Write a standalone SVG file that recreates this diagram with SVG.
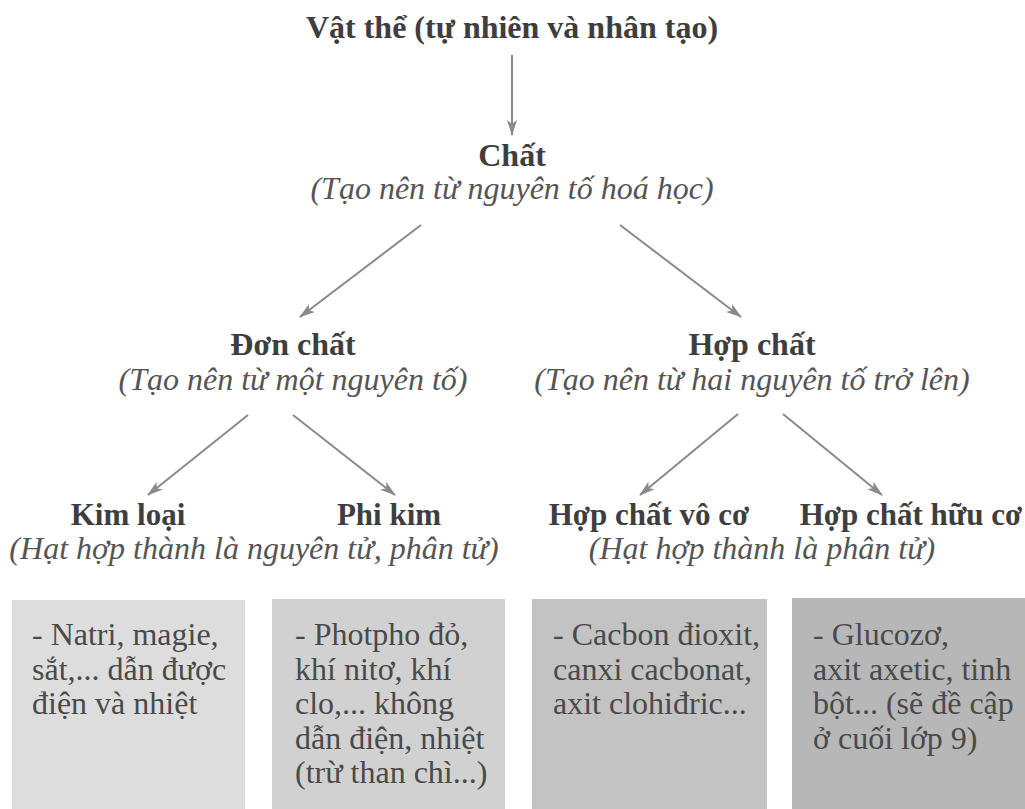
<svg xmlns="http://www.w3.org/2000/svg" width="1025" height="809" viewBox="0 0 1025 809">
<defs>
<style>
text{font-family:"Liberation Serif","DejaVu Serif",serif;font-size:32px}
.h{font-weight:bold;fill:#3e3e3e;text-anchor:middle}
.h3{font-size:31px}
.i{font-style:italic;fill:#555;text-anchor:middle}
.b{fill:#4a4a4a}
.c{stroke:#8a8a8a;stroke-width:2;fill:none;marker-end:url(#ah)}
</style>
<marker id="ah" markerWidth="16" markerHeight="10" refX="15" refY="5" orient="auto" markerUnits="userSpaceOnUse">
<path d="M0,0 L16,5 L0,10 L4,5 Z" fill="#8a8a8a"/>
</marker>
</defs>
<rect width="1025" height="809" fill="#ffffff"/>
<g id="connectors">
<line class="c" x1="512" y1="55" x2="512" y2="135"/>
<line class="c" x1="421" y1="225" x2="300" y2="317"/>
<line class="c" x1="620" y1="225" x2="741" y2="317"/>
<line class="c" x1="248" y1="415" x2="148" y2="495"/>
<line class="c" x1="293" y1="415" x2="395" y2="495"/>
<line class="c" x1="738" y1="414" x2="640" y2="495"/>
<line class="c" x1="783" y1="414" x2="882" y2="495"/>
</g>
<g id="vat-the"><text class="h" x="512" y="38">Vật thể (tự nhiên và nhân tạo)</text></g>
<g id="chat">
<text class="h" x="512" y="166">Chất</text>
<text class="i" x="512" y="199">(Tạo nên từ nguyên tố hoá học)</text>
</g>
<g id="don-chat">
<text class="h" x="293" y="355">Đơn chất</text>
<text class="i" x="293" y="390">(Tạo nên từ một nguyên tố)</text>
</g>
<g id="hop-chat">
<text class="h" x="752" y="355">Hợp chất</text>
<text class="i" x="752" y="390">(Tạo nên từ hai nguyên tố trở lên)</text>
</g>
<g id="kim-loai"><text class="h h3" x="128" y="525">Kim loại</text></g>
<g id="phi-kim"><text class="h h3" x="389" y="525">Phi kim</text></g>
<g id="don-chat-note"><text class="i" x="254" y="559">(Hạt hợp thành là nguyên tử, phân tử)</text></g>
<g id="vo-co"><text class="h h3" x="649" y="525">Hợp chất vô cơ</text></g>
<g id="huu-co"><text class="h h3" x="911" y="525">Hợp chất hữu cơ</text></g>
<g id="hop-chat-note"><text class="i" x="762" y="559">(Hạt hợp thành là phân tử)</text></g>
<g id="box-kim-loai">
<rect x="12" y="600" width="233" height="209" fill="#dddddd"/>
<text class="b" x="32" y="645">- Natri, magie,</text>
<text class="b" x="32" y="679.5">sắt,... dẫn được</text>
<text class="b" x="32" y="714">điện và nhiệt</text>
</g>
<g id="box-phi-kim">
<rect x="272" y="599" width="233" height="210" fill="#d1d1d1"/>
<text class="b" x="295" y="645">- Photpho đỏ,</text>
<text class="b" x="295" y="679.5">khí nitơ, khí</text>
<text class="b" x="295" y="714">clo,... không</text>
<text class="b" x="295" y="748.5">dẫn điện, nhiệt</text>
<text class="b" x="295" y="783">(trừ than chì...)</text>
</g>
<g id="box-vo-co">
<rect x="532" y="599" width="235" height="210" fill="#c3c3c3"/>
<text class="b" x="553" y="645">- Cacbon đioxit,</text>
<text class="b" x="553" y="679.5">canxi cacbonat,</text>
<text class="b" x="553" y="714">axit clohiđric...</text>
</g>
<g id="box-huu-co">
<rect x="792" y="598" width="233" height="211" fill="#b7b7b7"/>
<text class="b" x="813" y="645">- Glucozơ,</text>
<text class="b" x="813" y="679.5">axit axetic, tinh</text>
<text class="b" x="813" y="714">bột... (sẽ đề cập</text>
<text class="b" x="813" y="748.5">ở cuối lớp 9)</text>
</g>
</svg>
